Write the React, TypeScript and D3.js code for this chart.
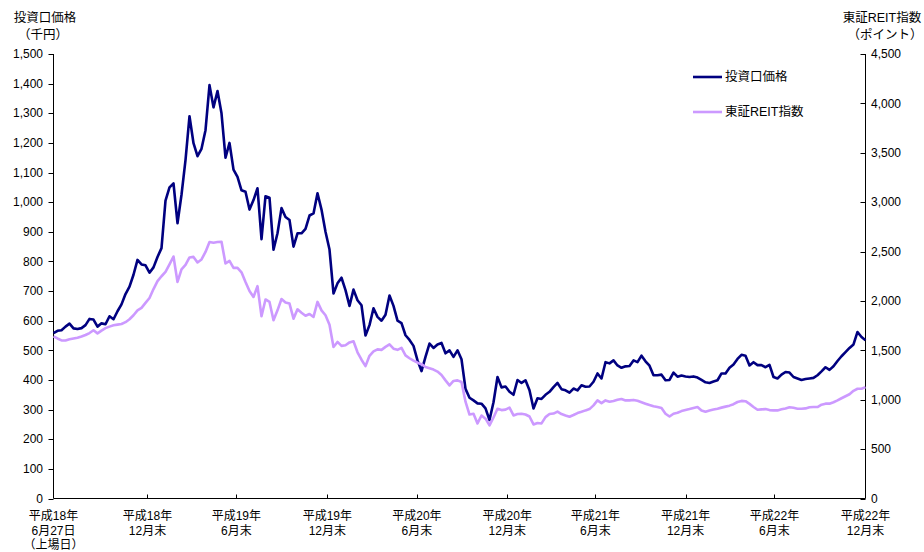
import * as d3 from "d3";
import React, { useEffect, useRef } from "react";

// trading days in each half-year period shown on the x axis
const periodTradingDays = [128, 121, 124, 122, 123, 120, 123, 121, 124];

const tickLabels = [
  ["平成18年", "6月27日", "（上場日）"],
  ["平成18年", "12月末"],
  ["平成19年", "6月末"],
  ["平成19年", "12月末"],
  ["平成20年", "6月末"],
  ["平成20年", "12月末"],
  ["平成21年", "6月末"],
  ["平成21年", "12月末"],
  ["平成22年", "6月末"],
  ["平成22年", "12月末"],
];

// 投資口価格 (千円), sampled evenly over the period
const unitPrice = [
  558, 566, 568, 580, 590, 574, 572, 575, 585, 606, 604, 580, 591, 588, 615, 605,
  632, 655, 690, 715, 755, 805, 790, 787, 762, 780, 815, 845, 1005, 1050, 1063, 929,
  1025, 1142, 1290, 1199, 1155, 1180, 1243, 1395, 1320, 1375, 1300, 1150, 1200, 1110,
  1085, 1040, 1035, 975, 1007, 1047, 875, 1020, 1015, 840, 895, 980, 950, 940, 850,
  895, 895, 910, 955, 962, 1030, 975, 900, 840, 692, 726, 745, 703, 650, 705, 669,
  652, 550, 585, 642, 613, 600, 620, 685, 650, 600, 592, 551, 535, 515, 466, 430,
  478, 523, 508, 520, 525, 490, 500, 478, 500, 470, 370, 340, 331, 321, 320, 304,
  265, 325, 410, 375, 378, 360, 350, 400, 390, 399, 365, 304, 338, 336, 350, 360,
  376, 390, 369, 365, 357, 371, 365, 382, 377, 378, 394, 422, 405, 460, 456, 466,
  449, 441, 446, 447, 466, 460, 482, 463, 448, 416, 416, 418, 399, 400, 425, 411,
  415, 412, 410, 412, 408, 400, 392, 390, 395, 399, 422, 422, 441, 452, 471, 485,
  482, 449, 460, 450, 450, 443, 451, 410, 405, 418, 427, 425, 410, 405, 400, 403,
  405, 407, 416, 429, 443, 434, 446, 464, 480, 494, 508, 520, 562, 545, 534,
];

// 東証REIT指数 (ポイント)
const reitIndex = [
  1642, 1620, 1600, 1600, 1612, 1620, 1628, 1640, 1655, 1675, 1703, 1672, 1700, 1725,
  1740, 1753, 1760, 1767, 1785, 1815, 1855, 1905, 1930, 1980, 2030, 2120, 2200, 2250,
  2294, 2370, 2450, 2192, 2320, 2365, 2440, 2446, 2390, 2420, 2496, 2597, 2590, 2597,
  2600, 2379, 2405, 2335, 2335, 2290, 2192, 2100, 2040, 2150, 1845, 2015, 1990, 1805,
  1905, 2020, 1985, 1973, 1821, 1915, 1880, 1850, 1868, 1838, 1990, 1905, 1855, 1760,
  1534, 1585, 1545, 1552, 1580, 1592, 1480, 1405, 1340, 1445, 1490, 1510, 1505, 1535,
  1560, 1517, 1505, 1525, 1449, 1420, 1395, 1375, 1360, 1331, 1318, 1305, 1285, 1250,
  1196, 1145, 1190, 1196, 1179, 980, 850, 858, 760, 840, 808, 740, 820, 909, 895, 900,
  920, 841, 855, 858, 850, 830, 750, 765, 760, 824, 855, 860, 880, 855, 841, 828, 845,
  865, 878, 892, 905, 943, 993, 965, 993, 980, 988, 1000, 1008, 993, 993, 998, 990,
  975, 960, 946, 933, 926, 915, 858, 830, 858, 868, 885, 895, 905, 916, 926, 890, 878,
  890, 900, 909, 920, 930, 940, 955, 977, 988, 985, 958, 926, 898, 902, 905, 895, 892,
  892, 903, 912, 924, 918, 909, 909, 912, 924, 926, 926, 950, 960, 960, 975, 993, 1015,
  1035, 1055, 1090, 1111, 1111, 1128,
];

const leftTicks = d3.range(0, 1501, 100);
const rightTicks = d3.range(0, 4501, 500);

const NAVY = "#000080";
const LILAC = "#CC99FF";
const FONT = "'Liberation Sans', Arial, 'Noto Sans CJK JP', sans-serif";

const App: React.FC = () => {
  const svgRef = useRef<SVGSVGElement>(null);

  useEffect(() => {
    if (!svgRef.current) return;
    const svg = d3.select(svgRef.current);
    svg.selectAll("*").remove();

    const left = 53.5;
    const right = 865.5;
    const top = 54;
    const bottom = 498.5;

    const tickDays = [0, ...d3.cumsum(periodTradingDays)];
    const totalDays = tickDays[tickDays.length - 1];

    const x = d3.scaleLinear().domain([0, totalDays]).range([left, right]);
    const yL = d3.scaleLinear().domain([0, 1500]).range([bottom, top]);
    const yR = d3.scaleLinear().domain([0, 4500]).range([bottom, top]);
    const dayOf = (i: number, n: number) => (i * totalDays) / (n - 1);

    const g = svg.append("g").style("font-family", FONT);

    // axes frame
    g.append("line")
      .attr("x1", left).attr("x2", left)
      .attr("y1", top).attr("y2", bottom)
      .attr("stroke", "#000");
    g.append("line")
      .attr("x1", right).attr("x2", right)
      .attr("y1", top).attr("y2", bottom)
      .attr("stroke", "#000");
    g.append("line")
      .attr("x1", left).attr("x2", right)
      .attr("y1", bottom).attr("y2", bottom)
      .attr("stroke", "#000");

    // left ticks
    g.selectAll(".lt")
      .data(leftTicks)
      .join("line")
      .attr("x1", left - 5).attr("x2", left)
      .attr("y1", (d) => Math.round(yL(d)) + 0.5)
      .attr("y2", (d) => Math.round(yL(d)) + 0.5)
      .attr("stroke", "#000");
    g.selectAll(".ll")
      .data(leftTicks)
      .join("text")
      .attr("x", 43)
      .attr("y", (d) => yL(d))
      .attr("dy", "0.35em")
      .attr("text-anchor", "end")
      .style("font-size", "12px")
      .text((d) => d3.format(",")(d));

    // right ticks
    g.selectAll(".rt")
      .data(rightTicks)
      .join("line")
      .attr("x1", right - 5).attr("x2", right)
      .attr("y1", (d) => Math.round(yR(d)) + 0.5)
      .attr("y2", (d) => Math.round(yR(d)) + 0.5)
      .attr("stroke", "#000");
    g.selectAll(".rl")
      .data(rightTicks)
      .join("text")
      .attr("x", 871)
      .attr("y", (d) => yR(d))
      .attr("dy", "0.35em")
      .style("font-size", "12px")
      .text((d) => d3.format(",")(d));

    // x ticks
    g.selectAll(".xt")
      .data(tickDays.slice(1, -1))
      .join("line")
      .attr("x1", (d) => Math.round(x(d)) + 0.5)
      .attr("x2", (d) => Math.round(x(d)) + 0.5)
      .attr("y1", bottom - 4).attr("y2", bottom)
      .attr("stroke", "#000");
    const xl = g.selectAll(".xl")
      .data(tickLabels)
      .join("text")
      .attr("text-anchor", "middle")
      .style("font-size", "12px");
    xl.selectAll("tspan")
      .data((d, i) => d.map((s) => ({ s, i })))
      .join("tspan")
      .attr("x", (d) => x(tickDays[d.i]))
      .attr("y", (_, j) => 520 + j * 14.5)
      .text((d) => d.s);

    // axis titles
    g.append("text").attr("x", 45).attr("y", 22).attr("text-anchor", "middle")
      .style("font-size", "12.5px").text("投資口価格");
    g.append("text").attr("x", 43).attr("y", 39).attr("text-anchor", "middle")
      .style("font-size", "12.5px").text("（千円）");
    g.append("text").attr("x", 882).attr("y", 22).attr("text-anchor", "middle")
      .style("font-size", "12.5px").text("東証REIT指数");
    g.append("text").attr("x", 885).attr("y", 39).attr("text-anchor", "middle")
      .style("font-size", "12.5px").text("（ポイント）");

    // lines
    const priceLine = d3.line<number>()
      .x((_, i) => x(dayOf(i, unitPrice.length)))
      .y((d) => yL(d));
    const reitLine = d3.line<number>()
      .x((_, i) => x(dayOf(i, reitIndex.length)))
      .y((d) => yR(d));

    g.append("path")
      .datum(unitPrice)
      .attr("d", priceLine)
      .attr("fill", "none")
      .attr("stroke", NAVY)
      .attr("stroke-width", 2.6)
      .attr("stroke-linejoin", "round");
    g.append("path")
      .datum(reitIndex)
      .attr("d", reitLine)
      .attr("fill", "none")
      .attr("stroke", LILAC)
      .attr("stroke-width", 2.6)
      .attr("stroke-linejoin", "round");

    // legend
    const legend = [
      { name: "投資口価格", color: NAVY, y: 77 },
      { name: "東証REIT指数", color: LILAC, y: 112 },
    ];
    legend.forEach((l) => {
      g.append("line")
        .attr("x1", 693).attr("x2", 722)
        .attr("y1", l.y).attr("y2", l.y)
        .attr("stroke", l.color)
        .attr("stroke-width", 2.6);
      g.append("text")
        .attr("x", 725).attr("y", l.y)
        .attr("dy", "0.35em")
        .style("font-size", "12.5px")
        .text(l.name);
    });
  }, []);

  return (
    <svg
      ref={svgRef}
      width={924}
      height={552}
      style={{ position: "absolute", left: 0, top: 0, background: "#fff" }}
    />
  );
};

export default App;
